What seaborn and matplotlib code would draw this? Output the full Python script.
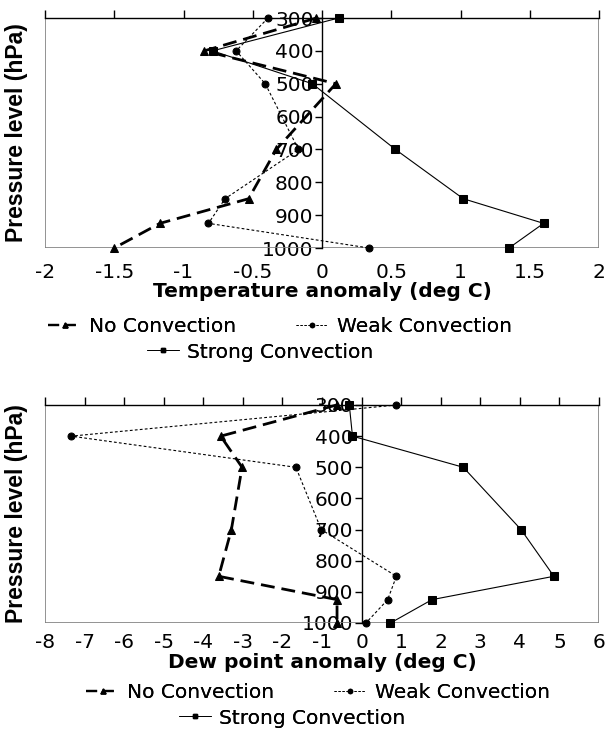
import matplotlib
matplotlib.use('Agg')
import matplotlib.pyplot as plt
import seaborn as sns
import pandas as pd
from matplotlib.lines import Line2D
from matplotlib.patches import Rectangle

sns.set_style('white')
plt.rcParams['font.family'] = ['DejaVu Sans']
plt.rcParams['axes.unicode_minus'] = False
plt.rcParams['text.color'] = 'black'
plt.rcParams['axes.labelcolor'] = 'black'

# pressure levels (hPa)
levels = [300, 400, 500, 700, 850, 925, 1000]

# temperature anomaly (deg C)
temp_no = [-0.04, -0.85, 0.10, -0.33, -0.53, -1.17, -1.50]
temp_weak = [-0.39, -0.62, -0.41, -0.17, -0.70, -0.82, 0.34]
temp_strong = [0.12, -0.79, -0.07, 0.53, 1.02, 1.60, 1.35]

# dew point anomaly (deg C)
dew_no = [-0.63, -3.56, -3.02, -3.29, -3.61, -0.62, -0.62]
dew_weak = [0.88, -7.34, -1.66, -1.02, 0.88, 0.66, 0.11]
dew_strong = [-0.31, -0.23, 2.57, 4.03, 4.86, 1.78, 0.73]

series_names = ['No Convection', 'Weak Convection', 'Strong Convection']
styles = {
    'No Convection': dict(ls=(0, (5, 2.5)), lw=2.0, marker='^', ms=6),
    'Weak Convection': dict(ls=(0, (2.5, 2)), lw=0.8, marker='o', ms=5),
    'Strong Convection': dict(ls='-', lw=0.8, marker='s', ms=5.5),
}

fig = plt.figure(figsize=(6.07, 7.40), dpi=100)
ax1 = fig.add_axes([45 / 607, 1 - 248 / 740, 554 / 607, 230 / 740])
ax2 = fig.add_axes([45 / 607, 1 - 623 / 740, 554 / 607, 218 / 740])


def draw_panel(ax, values, xlim, xticks, xlabel, tickpad, labelpad):
    for name, vals in zip(series_names, values):
        st = styles[name]
        df = pd.DataFrame({'anom': vals, 'level': levels})
        sns.lineplot(data=df, x='anom', y='level', ax=ax, sort=False,
                     estimator=None, color='black', linestyle=st['ls'],
                     linewidth=st['lw'], marker=st['marker'],
                     markersize=st['ms'], markeredgecolor='black',
                     markerfacecolor='black', clip_on=False, zorder=3)
    ax.set_xlim(*xlim)
    ax.set_ylim(1000, 300)
    ax.set_xticks(xticks)
    ax.set_xticklabels([('%g' % t) for t in xticks])
    ax.set_yticks(range(300, 1001, 100))
    ax.set_yticklabels([str(v) for v in range(300, 1001, 100)])
    # plot area border
    ax.add_patch(Rectangle((0, 0), 1, 1, transform=ax.transAxes,
                           fill=False, edgecolor='#808080', lw=1.2, zorder=1))
    for s in ['right', 'bottom']:
        ax.spines[s].set_visible(False)
    ax.spines['left'].set_position(('data', 0))
    ax.spines['left'].set_color('black')
    ax.spines['left'].set_linewidth(1.0)
    ax.spines['top'].set_color('black')
    ax.spines['top'].set_linewidth(1.0)
    ax.tick_params(axis='x', top=True, bottom=False, labeltop=False,
                   labelbottom=True, direction='out', length=6, width=1,
                   pad=tickpad, colors='black', labelsize=14.5)
    ax.tick_params(axis='y', left=True, direction='out', length=5, width=1,
                   pad=1, colors='black', labelsize=14.5)
    ax.set_xlabel(xlabel, fontsize=14.5, fontweight='bold', labelpad=labelpad)
    ax.set_ylabel('')
    ax.grid(False)


draw_panel(ax1, [temp_no, temp_weak, temp_strong], (-2, 2),
           [-2, -1.5, -1, -0.5, 0, 0.5, 1, 1.5, 2],
           'Temperature anomaly (deg C)', 5, 0)
draw_panel(ax2, [dew_no, dew_weak, dew_strong], (-8, 6),
           list(range(-8, 7)), 'Dew point anomaly (deg C)', 1, 1)

fig.text(17 / 607, 1 - 133 / 740, 'Pressure level (hPa)', rotation=90,
         fontsize=16.5, fontweight='bold', ha='center', va='center',
         family='Liberation Sans')
fig.text(17 / 607, 1 - 514 / 740, 'Pressure level (hPa)', rotation=90,
         fontsize=16.5, fontweight='bold', ha='center', va='center',
         family='Liberation Sans')


def handle(name):
    st = styles[name]
    return Line2D([], [], color='black', linestyle=st['ls'],
                  linewidth=st['lw'] * 0.8, marker=st['marker'],
                  markersize=st['ms'] * 0.6)


def add_legends(row1_xy, row2_xy):
    leg1 = fig.legend([handle(n) for n in series_names[:2]], series_names[:2],
                      loc='center', bbox_to_anchor=row1_xy, ncol=2,
                      frameon=False, fontsize=14.5, handlelength=1.6,
                      columnspacing=3.0, handletextpad=0.4)
    fig.add_artist(leg1)
    leg2 = fig.legend([handle(series_names[2])], series_names[2:],
                      loc='center', bbox_to_anchor=row2_xy, frameon=False,
                      fontsize=14.5, handlelength=1.6, handletextpad=0.4)
    fig.add_artist(leg2)


add_legends((280 / 607, 1 - 327 / 740), (260 / 607, 1 - 352 / 740))
add_legends((318 / 607, 1 - 693 / 740), (292 / 607, 1 - 718 / 740))

fig.savefig('out.png', dpi=100)
